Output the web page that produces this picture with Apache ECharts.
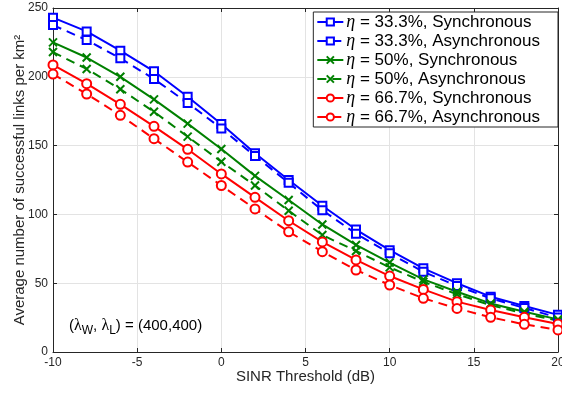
<!DOCTYPE html>
<html>
<head>
<meta charset="utf-8">
<script src="https://cdn.jsdelivr.net/npm/echarts@6/dist/echarts.min.js"></script>
<style>
  html, body { margin: 0; padding: 0; background: #fff; }
  #chart { width: 562px; height: 393px; }
</style>
</head>
<body>
<div id="chart"></div>
<script>
const sinr = [-10, -8, -6, -4, -2, 0, 2, 4, 6, 8, 10, 12, 14, 16, 18, 20]

const sync333 = [243, 233, 219, 204, 185.5, 165.7, 144.4, 125, 106.3, 89, 74, 60.8, 50, 40.2, 33.4, 27]
const async333 = [237.6, 226.7, 213.4, 198.4, 181, 162.5, 142.4, 123, 103, 86, 71.7, 58.3, 48, 39, 32, 25]
const sync50 = [225, 214, 200, 183.6, 166, 147.5, 128, 110.5, 92.7, 77.8, 65, 52.8, 43.8, 35.3, 29.3, 23.7]
const async50 = [218, 205.7, 191, 174.6, 156.5, 138.3, 121, 102.7, 85, 73.4, 61.5, 51, 42, 34, 28, 22.7]
const sync667 = [208.6, 195, 180, 164, 147.3, 129.4, 112.4, 95.4, 80, 66.9, 55.2, 45.5, 36.6, 30.5, 25.2, 20.3]
const async667 = [202, 187.5, 172, 155, 138, 121, 104, 87.4, 72.9, 59.6, 48.7, 39, 31.7, 25.2, 20.1, 16]

const BLUE = '#0000ff'
const GREEN = '#008000'
const RED = '#ff0000'
const AXIS = '#262626'
const FONT = '"Liberation Sans", Arial, sans-serif'
const CROSS = 'path://M0,0L10,10M10,0L0,10'

const chart = echarts.init(document.getElementById('chart'))

function makeSeries(name, data, color, symbol, dashed) {
  const isCross = symbol === CROSS
  return {
    name: name,
    type: 'line',
    data: sinr.map((x, i) => [x, data[i]]),
    symbol: symbol,
    symbolSize: isCross ? 8 : (symbol === 'emptyCircle' ? 9 : 8),
    showAllSymbol: true,
    lineStyle: { color: color, width: 2, type: dashed ? [9, 6] : 'solid' },
    itemStyle: {
      color: isCross ? 'rgba(0,0,0,0)' : color,
      borderColor: color,
      borderWidth: 2
    },
    emphasis: { disabled: true },
    animation: false
  }
}

const option = {
  animation: false,
  grid: { left: 53, right: 4, top: 8, bottom: 41, show: false, outerBoundsMode: 'none', containLabel: false },
  legend: {
    right: 4,
    top: 12,
    orient: 'vertical',
    backgroundColor: '#fff',
    borderColor: '#262626',
    borderWidth: 1,
    padding: [1, 18, 1, 3],
    itemGap: 1,
    itemWidth: 26,
    itemHeight: 9,
    textStyle: {
      fontFamily: FONT,
      fontSize: 17,
      color: '#000',
      padding: [0, 0, 0, -2],
      rich: { i: { fontStyle: 'italic', fontFamily: '"Liberation Serif", serif', fontSize: 18 } }
    },
    formatter: function (name) { return '{i|η} = ' + name }
  },
  xAxis: [{
    type: 'value',
    min: -10, max: 20, interval: 5,
    name: 'SINR Threshold (dB)',
    nameLocation: 'middle',
    nameGap: 17,
    nameMoveOverlap: false,
    nameTextStyle: { fontFamily: FONT, fontSize: 15, color: AXIS },
    axisLine: { onZero: false, lineStyle: { color: AXIS } },
    axisTick: { inside: true, length: 4, lineStyle: { color: AXIS } },
    axisLabel: { fontFamily: FONT, fontSize: 12, color: AXIS, margin: 5 },
    splitLine: { show: true, lineStyle: { color: '#e3e3e3' } }
  }, {
    type: 'value',
    position: 'top',
    min: -10, max: 20, interval: 5,
    axisLine: { show: true, onZero: false, lineStyle: { color: AXIS } },
    axisTick: { inside: true, length: 4, lineStyle: { color: AXIS } },
    axisLabel: { show: false },
    splitLine: { show: false }
  }],
  yAxis: [{
    type: 'value',
    min: 0, max: 250, interval: 50,
    name: 'Average number of successful links per km²',
    nameLocation: 'middle',
    nameGap: 26,
    nameMoveOverlap: false,
    nameTextStyle: { fontFamily: FONT, fontSize: 15, color: AXIS },
    axisLine: { show: true, onZero: false, lineStyle: { color: AXIS } },
    axisTick: { show: true, inside: true, length: 4, lineStyle: { color: AXIS } },
    axisLabel: { fontFamily: FONT, fontSize: 12, color: AXIS, margin: 5 },
    splitLine: { show: true, lineStyle: { color: '#e3e3e3' } }
  }, {
    type: 'value',
    position: 'right',
    min: 0, max: 250, interval: 50,
    axisLine: { show: true, onZero: false, lineStyle: { color: AXIS } },
    axisTick: { show: true, inside: true, length: 4, lineStyle: { color: AXIS } },
    axisLabel: { show: false },
    splitLine: { show: false }
  }],
  graphic: [{
    type: 'text',
    left: 69,
    top: 318,
    style: {
      text: '({l|λ}{s|W}, {l|λ}{s|L}) = (400,400)',
      font: '15px ' + FONT,
      fill: '#000',
      rich: {
        l: { fontFamily: '"Liberation Serif", serif', fontSize: 16, fill: '#000' },
        s: { fontFamily: FONT, fontSize: 12, padding: [9, 0, 0, 0], fill: '#000' }
      }
    }
  }],
  series: [
    makeSeries('33.3%, Synchronous', sync333, BLUE, 'emptyRect', false),
    makeSeries('33.3%, Asynchronous', async333, BLUE, 'emptyRect', true),
    makeSeries('50%, Synchronous', sync50, GREEN, CROSS, false),
    makeSeries('50%, Asynchronous', async50, GREEN, CROSS, true),
    makeSeries('66.7%, Synchronous', sync667, RED, 'emptyCircle', false),
    makeSeries('66.7%, Asynchronous', async667, RED, 'emptyCircle', true)
  ]
}

chart.setOption(option)
</script>
</body>
</html>
